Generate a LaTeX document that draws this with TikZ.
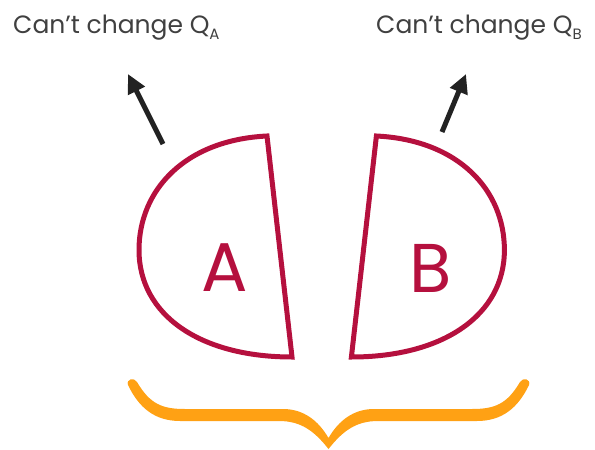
\documentclass[tikz,border=0pt]{standalone}
\usepackage{fontspec}
\setmainfont{Poppins}
\usetikzlibrary{arrows.meta}
\definecolor{crim}{RGB}{181,16,62}
\definecolor{brace}{RGB}{255,161,20}
\definecolor{arr}{RGB}{34,34,34}
\definecolor{txt}{RGB}{64,64,64}
\tikzset{
  half/.style={draw=crim,line width=5pt,line join=miter},
  bigletter/.style={text=crim,font=\fontsize{69}{70}\selectfont,inner sep=0pt},
  caption/.style={text=txt,font=\fontsize{25}{28}\selectfont,inner sep=0pt,anchor=base west},
  upar/.style={draw=arr,line width=5pt,-{Triangle[length=19pt,width=18pt]}}
}
\newcommand{\subq}[1]{\raisebox{-6pt}{\fontsize{15}{15}\selectfont #1}}
\begin{document}
\begin{tikzpicture}[x=1pt,y=-1pt]
\useasboundingbox (0,0) rectangle (595,450);
% texts
\node[caption] (ta) at (13,33) {Can’t change Q\subq{A}};
\node[caption] (tb) at (376,33) {Can’t change Q\subq{B}};
% arrows
\coordinate (a0) at (163,144);
\coordinate (a1) at (128,74);
\coordinate (b0) at (442,132);
\coordinate (b1) at (466,74);
\draw[upar] (a0) -- (a1);
\draw[upar] (b0) -- (b1);
% half shapes
\draw[half] (267,136) .. controls (185,140) and (139,190) .. (139,250)
  .. controls (139,315) and (200,357) .. (292,357) -- cycle;
\draw[half] (376.4,136) .. controls (458.4,140) and (504.4,190) .. (504.4,250)
  .. controls (504.4,315) and (443.4,357) .. (351.4,357) -- cycle;
\node[bigletter] (A) at (225,268) {A};
\node[bigletter] (B) at (431,268) {B};
% brace
\fill[brace] (137,382) .. controls (150,404) and (162,409) .. (185,409) -- (283,409)
  .. controls (303,409) and (318,420) .. (328.5,438)
  .. controls (339,420) and (354,409) .. (374,409) -- (472,409)
  .. controls (495,409) and (507,404) .. (520,382)
  .. controls (523,377) and (531,379) .. (529,385)
  .. controls (518,408) and (502,421) .. (477,421) -- (378,421)
  .. controls (355,421) and (342,432) .. (328.5,449)
  .. controls (315,432) and (302,421) .. (279,421) -- (180,421)
  .. controls (155,421) and (139,408) .. (128,385)
  .. controls (126,379) and (134,377) .. cycle;
\end{tikzpicture}
\end{document}
